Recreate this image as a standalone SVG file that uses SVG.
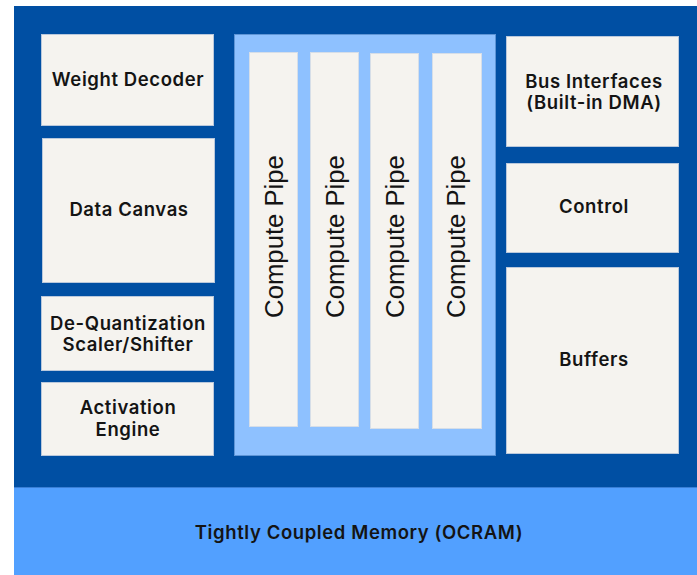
<svg xmlns="http://www.w3.org/2000/svg" width="697" height="575" viewBox="0 0 697 575">
  <style>
    .blk { fill: #F5F3EF; stroke: #B9C8DC; stroke-width: 1; }
    .pipe { fill: #F5F3EF; stroke: #D6DEE8; stroke-width: 1; }
    .lbl { font-family: Inter, "Open Sans", sans-serif; font-weight: 600; font-size: 18.5px; letter-spacing: 0.6px; fill: #141414; text-anchor: middle; }
    .pl { font-family: "Liberation Sans", Arial, sans-serif; font-size: 25.7px; fill: #141414; text-anchor: middle; }
  </style>
  <rect x="0" y="0" width="697" height="575" fill="#FFFFFF"/>

  <!-- NPU shell -->
  <rect id="shell" x="14" y="6" width="683" height="481" fill="#004FA3"/>

  <!-- Tightly coupled memory -->
  <g id="ocram">
    <rect x="14" y="487" width="683" height="88" fill="#52A0FF"/>
    <line x1="14" y1="487.5" x2="697" y2="487.5" stroke="#3A7FD6" stroke-width="1"/>
    <text class="lbl" x="359" y="539">Tightly Coupled Memory (OCRAM)</text>
  </g>

  <!-- Left column -->
  <g id="weight-decoder">
    <rect class="blk" x="41.5" y="34.5" width="172" height="91"/>
    <text class="lbl" x="128" y="86">Weight Decoder</text>
  </g>
  <g id="data-canvas">
    <rect class="blk" x="42.5" y="138.5" width="172" height="144"/>
    <text class="lbl" x="129" y="216">Data Canvas</text>
  </g>
  <g id="dequant">
    <rect class="blk" x="41.5" y="296.5" width="172" height="74"/>
    <text class="lbl" x="128" y="330">De-Quantization</text>
    <text class="lbl" x="128" y="351">Scaler/Shifter</text>
  </g>
  <g id="activation">
    <rect class="blk" x="41.5" y="382.5" width="172" height="73"/>
    <text class="lbl" x="128" y="414">Activation</text>
    <text class="lbl" x="128" y="436">Engine</text>
  </g>

  <!-- Compute array -->
  <g id="compute">
    <rect x="234.5" y="34.5" width="261" height="421" fill="#8EC1FF" stroke="#5E95D6" stroke-width="1"/>
    <g id="pipe-1">
      <rect class="pipe" x="249.5" y="52.5" width="48" height="374"/>
      <text class="pl" transform="translate(283,236.5) rotate(-90)">Compute Pipe</text>
    </g>
    <g id="pipe-2">
      <rect class="pipe" x="310.5" y="52.5" width="48" height="374"/>
      <text class="pl" transform="translate(344,236.5) rotate(-90)">Compute Pipe</text>
    </g>
    <g id="pipe-3">
      <rect class="pipe" x="370.5" y="53.5" width="48" height="375"/>
      <text class="pl" transform="translate(404,236.5) rotate(-90)">Compute Pipe</text>
    </g>
    <g id="pipe-4">
      <rect class="pipe" x="432.5" y="53.5" width="49" height="375"/>
      <text class="pl" transform="translate(465,236.5) rotate(-90)">Compute Pipe</text>
    </g>
  </g>

  <!-- Right column -->
  <g id="bus-interfaces">
    <rect class="blk" x="506.5" y="36.5" width="172" height="110"/>
    <text class="lbl" x="594" y="88">Bus Interfaces</text>
    <text class="lbl" x="594" y="109">(Built-in DMA)</text>
  </g>
  <g id="control">
    <rect class="blk" x="506.5" y="163.5" width="172" height="89"/>
    <text class="lbl" x="594" y="213">Control</text>
  </g>
  <g id="buffers">
    <rect class="blk" x="506.5" y="267.5" width="172" height="186"/>
    <text class="lbl" x="594" y="366">Buffers</text>
  </g>

  <g id="connectors"/>
</svg>
